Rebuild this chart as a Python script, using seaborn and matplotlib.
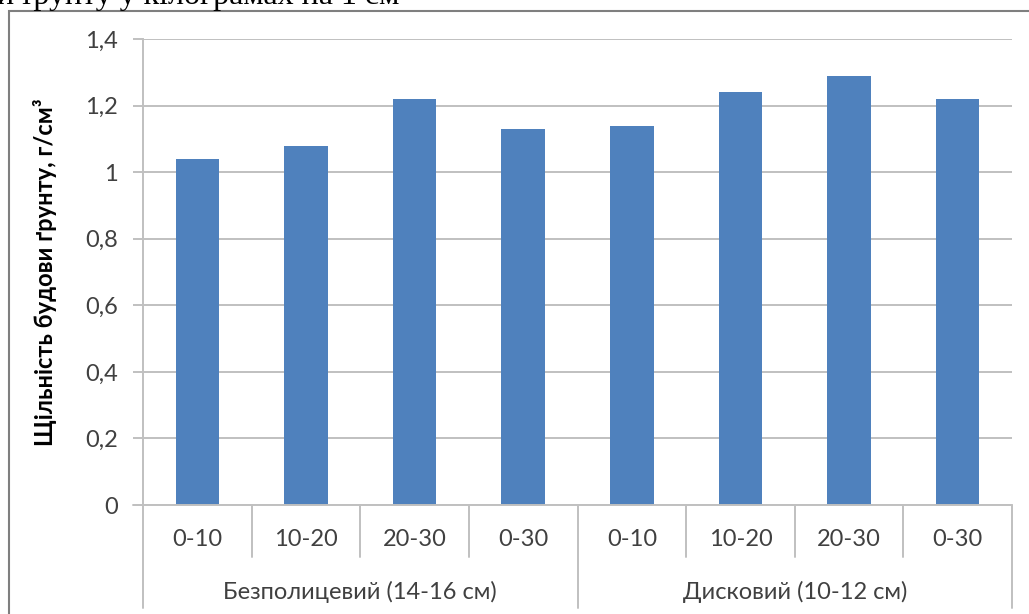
"""Bar chart: soil bulk density by tillage type and depth."""
import matplotlib
matplotlib.use("Agg")
import matplotlib.pyplot as plt
import matplotlib.transforms as mtransforms
from matplotlib.patches import Rectangle
from matplotlib.ticker import FuncFormatter
import pandas as pd
import seaborn as sns

GROUPS = ["Безполицевий (14-16 см)", "Дисковий (10-12 см)"]
DEPTHS = ["0-10", "10-20", "20-30", "0-30"]
DENSITY = [1.04, 1.08, 1.22, 1.13, 1.14, 1.24, 1.29, 1.22]
YLABEL = "Щільність будови ґрунту, г/см³"
TOP_TEXT = "й ґрунту у кілограмах на 1 см"

BAR = "#4F81BD"
GRID = "#C0C0C0"
TXT = "#404040"
FS = 17


def main() -> None:
    sns.set_theme(style="white")
    plt.rcParams["font.family"] = ["Lato", "DejaVu Sans"]

    df = pd.DataFrame({
        "pos": list(range(len(DENSITY))),
        "depth": DEPTHS * len(GROUPS),
        "group": [g for g in GROUPS for _ in DEPTHS],
        "density": DENSITY,
    })

    fig = plt.figure(figsize=(10.29, 6.14), dpi=100)
    ax = fig.add_axes([143 / 1029, 1 - 505 / 614, (1012 - 143) / 1029, (505 - 39) / 614])

    sns.barplot(data=df, x="pos", y="density", color=BAR, saturation=1,
                width=0.4, ax=ax)
    for p in ax.patches:
        p.set_edgecolor("none")

    lw = 1.4
    ax.set_ylim(0, 1.4)
    ax.set_yticks([i * 0.2 for i in range(8)])
    ax.yaxis.set_major_formatter(FuncFormatter(lambda v, _: f"{v:g}".replace(".", ",")))
    ax.yaxis.grid(True, color=GRID, lw=lw)
    ax.set_axisbelow(True)
    ax.tick_params(axis="y", left=True, length=7.2, width=lw, color=GRID,
                   labelsize=FS, labelcolor=TXT, pad=11)
    ax.tick_params(axis="x", bottom=False, labelbottom=False)
    for s in ["top", "right", "bottom"]:
        ax.spines[s].set_visible(False)
    ax.spines["left"].set_color(GRID)
    ax.spines["left"].set_linewidth(lw)
    ax.set_xlabel("")
    ax.set_ylabel(YLABEL, fontsize=FS, fontweight="bold", color="black")
    ax.yaxis.set_label_coords(-86 / 869, 0.5)
    ax.set_xlim(-0.5, len(DENSITY) - 0.5)

    # multi-level category axis
    trans = mtransforms.blended_transform_factory(ax.transData, ax.transAxes)
    px = 1 / (505 - 39)
    n = len(DEPTHS)
    for i in range(len(DENSITY) + 1):
        b = i - 0.5
        bottom = -103 * px if i % n == 0 else -52 * px
        ax.plot([b, b], [0, bottom], transform=trans, color=GRID, lw=lw, clip_on=False)
    ax.plot([-0.5 - 10 / 108.6, len(DENSITY) - 0.5], [0, 0], transform=trans,
            color=GRID, lw=lw, clip_on=False)
    for i, d in enumerate(df["depth"]):
        ax.text(i, -35 * px, d, transform=trans, ha="center", va="center",
                fontsize=FS, color=TXT)
    for j, g in enumerate(GROUPS):
        ax.text(j * n + (n - 1) / 2, -87 * px, g, transform=trans, ha="center",
                va="center", fontsize=FS, color=TXT)

    # chart frame and clipped caption line from the page above
    fig.patches.append(Rectangle((9 / 1029, -0.1), 1.1, 1 - 11 / 614 + 0.1,
                                 transform=fig.transFigure, fill=False,
                                 edgecolor="#7F7F7F", lw=1.5))
    fig.text(-3 / 1029, 1 - 4 / 614, TOP_TEXT, ha="left", va="baseline",
             fontsize=23, family="Liberation Serif", color="black")

    fig.savefig("out.png", dpi=100)
    plt.close(fig)


if __name__ == "__main__":
    main()
